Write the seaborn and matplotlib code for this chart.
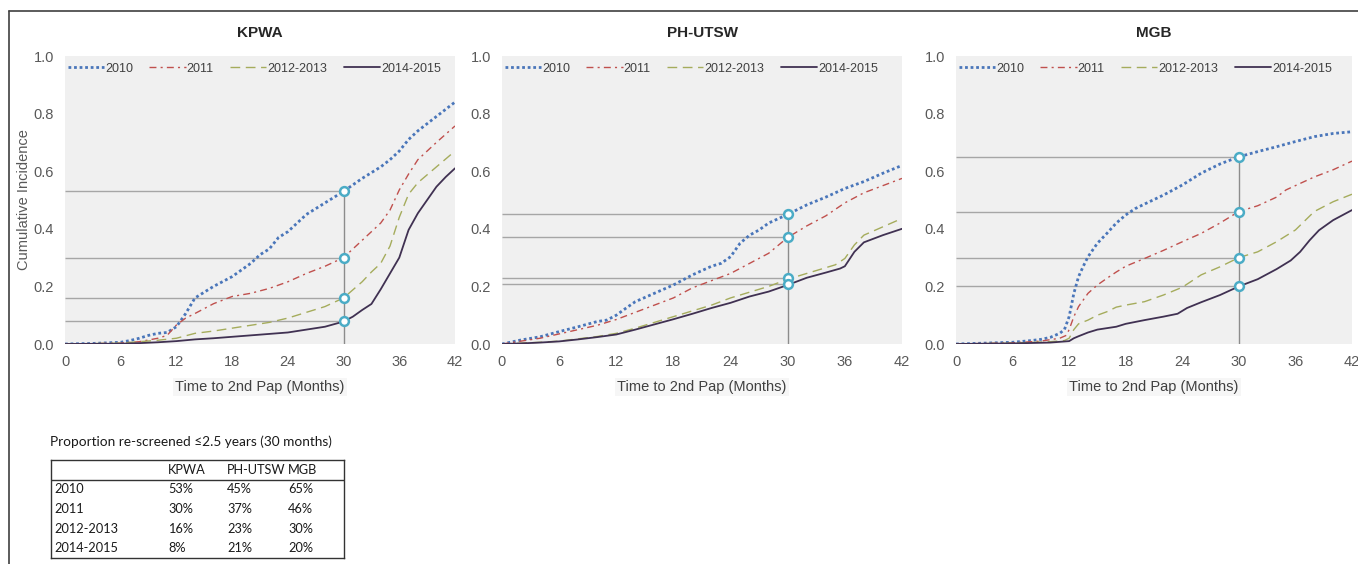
import numpy as np
import pandas as pd
import seaborn as sns
import matplotlib.pyplot as plt
from matplotlib.lines import Line2D

sns.set_style("white")
plt.rcParams['font.family'] = ['Liberation Sans', 'DejaVu Sans']

# data
sites = ["KPWA", "PH-UTSW", "MGB"]
cohorts = ["2010", "2011", "2012-2013", "2014-2015"]

# KPWA
kpwa_2010_t = [0, 3, 6, 7, 8, 9, 10, 11, 12, 13, 14, 15, 16, 18, 20, 21, 22, 23, 24, 25, 26, 28, 30, 32, 34, 35, 36, 37, 38, 40, 42]
kpwa_2010_v = [0, 0.002, 0.006, 0.012, 0.02, 0.03, 0.037, 0.04, 0.06, 0.106, 0.16, 0.18, 0.2, 0.234, 0.28, 0.31, 0.33, 0.37, 0.39, 0.42, 0.45, 0.49, 0.53, 0.575, 0.615, 0.64, 0.67, 0.71, 0.74, 0.79, 0.84]
kpwa_2011_t = [0, 6, 8, 10, 11, 12, 13, 14, 16, 18, 20, 22, 24, 26, 28, 30, 32, 33, 34, 35, 36, 37, 38, 40, 42]
kpwa_2011_v = [0, 0.003, 0.008, 0.02, 0.03, 0.066, 0.09, 0.106, 0.14, 0.165, 0.176, 0.193, 0.216, 0.245, 0.27, 0.30, 0.36, 0.39, 0.42, 0.465, 0.535, 0.59, 0.64, 0.70, 0.757]
kpwa_2012_t = [0, 6, 8, 10, 12, 14, 16, 18, 20, 22, 24, 26, 28, 30, 32, 33, 34, 35, 36, 37, 38, 40, 42]
kpwa_2012_v = [0, 0.003, 0.008, 0.013, 0.02, 0.037, 0.045, 0.055, 0.065, 0.075, 0.09, 0.11, 0.13, 0.16, 0.216, 0.25, 0.28, 0.34, 0.44, 0.52, 0.56, 0.615, 0.67]
kpwa_2014_t = [0, 6, 8, 10, 12, 14, 16, 18, 20, 22, 24, 26, 28, 30, 31, 32, 33, 34, 35, 36, 37, 38, 39, 40, 41, 42]
kpwa_2014_v = [0, 0.001, 0.003, 0.006, 0.01, 0.016, 0.02, 0.025, 0.03, 0.035, 0.04, 0.05, 0.06, 0.078, 0.095, 0.118, 0.139, 0.19, 0.245, 0.30, 0.396, 0.454, 0.50, 0.546, 0.58, 0.61]

# PH-UTSW
ph_2010_t = [0, 2, 4, 6, 8, 10, 11, 12, 13, 14, 16, 18, 20, 22, 23, 24, 25, 26, 27, 28, 30, 32, 34, 36, 38, 40, 42]
ph_2010_v = [0, 0.014, 0.025, 0.043, 0.06, 0.078, 0.083, 0.10, 0.124, 0.147, 0.176, 0.205, 0.24, 0.27, 0.28, 0.303, 0.35, 0.378, 0.396, 0.42, 0.45, 0.483, 0.51, 0.54, 0.564, 0.593, 0.62]
ph_2011_t = [0, 2, 4, 6, 8, 10, 12, 14, 16, 18, 20, 22, 24, 26, 28, 30, 32, 34, 36, 38, 40, 42]
ph_2011_v = [0, 0.01, 0.02, 0.035, 0.05, 0.065, 0.085, 0.11, 0.135, 0.16, 0.195, 0.22, 0.245, 0.28, 0.315, 0.37, 0.41, 0.445, 0.49, 0.525, 0.55, 0.575]
ph_2012_t = [0, 2, 4, 6, 8, 10, 12, 14, 16, 18, 20, 22, 24, 26, 28, 30, 32, 34, 35, 36, 37, 38, 40, 42]
ph_2012_v = [0, 0.003, 0.006, 0.01, 0.018, 0.026, 0.037, 0.055, 0.075, 0.095, 0.115, 0.135, 0.16, 0.18, 0.2, 0.225, 0.245, 0.265, 0.275, 0.297, 0.344, 0.378, 0.407, 0.436]
ph_2014_t = [0, 2, 4, 6, 8, 10, 12, 14, 16, 18, 20, 22, 24, 26, 28, 30, 32, 34, 35.5, 36, 37, 38, 40, 42]
ph_2014_v = [0, 0.002, 0.005, 0.009, 0.016, 0.024, 0.033, 0.05, 0.068, 0.086, 0.105, 0.125, 0.143, 0.165, 0.182, 0.205, 0.23, 0.248, 0.262, 0.27, 0.32, 0.353, 0.378, 0.40]

# MGB
mgb_2010_t = [0, 3, 6, 8, 9, 10, 11, 11.5, 12, 12.5, 13, 13.5, 14, 15, 16, 17, 18, 19, 20, 22, 24, 26, 28, 30, 32, 34, 36, 38, 40, 42]
mgb_2010_v = [0, 0.003, 0.006, 0.012, 0.016, 0.023, 0.037, 0.05, 0.095, 0.176, 0.234, 0.27, 0.303, 0.35, 0.384, 0.42, 0.448, 0.47, 0.486, 0.517, 0.552, 0.593, 0.625, 0.65, 0.668, 0.685, 0.703, 0.72, 0.731, 0.737]
mgb_2011_t = [0, 6, 9, 11, 11.7, 12, 12.5, 13, 14, 15, 16, 17, 18, 20, 22, 24, 26, 28, 30, 32, 34, 35, 36, 38, 40, 42]
mgb_2011_v = [0, 0.004, 0.01, 0.02, 0.03, 0.05, 0.095, 0.13, 0.176, 0.205, 0.228, 0.25, 0.27, 0.297, 0.325, 0.355, 0.384, 0.42, 0.46, 0.48, 0.51, 0.535, 0.55, 0.58, 0.605, 0.635]
mgb_2012_t = [0, 6, 10, 11.5, 12, 12.5, 13, 14, 15, 16, 17, 18, 20, 22, 24, 26, 28, 30, 32, 34, 36, 38, 40, 42]
mgb_2012_v = [0, 0.003, 0.008, 0.012, 0.02, 0.05, 0.07, 0.083, 0.1, 0.112, 0.128, 0.135, 0.147, 0.17, 0.197, 0.24, 0.268, 0.30, 0.32, 0.355, 0.396, 0.46, 0.494, 0.52]
mgb_2014_t = [0, 6, 10, 12, 12.5, 13, 14, 15, 16, 17, 18, 20, 22, 23.5, 24.5, 26, 28, 30, 32, 34, 35.5, 36.5, 37.5, 38.5, 40, 42]
mgb_2014_v = [0, 0.002, 0.005, 0.01, 0.02, 0.027, 0.04, 0.05, 0.055, 0.06, 0.07, 0.083, 0.095, 0.105, 0.125, 0.145, 0.17, 0.20, 0.225, 0.26, 0.29, 0.32, 0.36, 0.395, 0.43, 0.465]

# proportion re-screened at 30 months (%)
pct_kpwa = [53, 30, 16, 8]
pct_ph = [45, 37, 23, 21]
pct_mgb = [65, 46, 30, 20]

curves = {
    "KPWA": [(kpwa_2010_t, kpwa_2010_v), (kpwa_2011_t, kpwa_2011_v), (kpwa_2012_t, kpwa_2012_v), (kpwa_2014_t, kpwa_2014_v)],
    "PH-UTSW": [(ph_2010_t, ph_2010_v), (ph_2011_t, ph_2011_v), (ph_2012_t, ph_2012_v), (ph_2014_t, ph_2014_v)],
    "MGB": [(mgb_2010_t, mgb_2010_v), (mgb_2011_t, mgb_2011_v), (mgb_2012_t, mgb_2012_v), (mgb_2014_t, mgb_2014_v)],
}
pcts = {"KPWA": pct_kpwa, "PH-UTSW": pct_ph, "MGB": pct_mgb}

colors = ["#4A76BA", "#C0504D", "#A5AC5C", "#403152"]
styles = [(0, (1, 1)), (0, (5, 3, 1.5, 3)), (0, (7, 4)), "-"]
widths = [2.0, 1.0, 1.0, 1.3]

W, H = 1358, 564
fig = plt.figure(figsize=(W / 100, H / 100), dpi=100)
panels = [(65, 390), (502, 400), (956, 396)]
top, bottom = 56, 344

for i, site in enumerate(sites):
    left, width = panels[i]
    ax = fig.add_axes([left / W, 1 - bottom / H, width / W, (bottom - top) / H])
    ax.set_facecolor("#F0F0F0")
    for s in ax.spines.values():
        s.set_visible(False)

    vals = np.array(pcts[site]) / 100
    ax.hlines(vals, 0, 30, color="#A6A6A6", lw=1, zorder=1)
    ax.vlines(30, 0, vals.max(), color="#8C8C8C", lw=1, zorder=1)

    for j, (t, v) in enumerate(curves[site]):
        df = pd.DataFrame({"month": t, "ci": v})
        sns.lineplot(data=df, x="month", y="ci", ax=ax, color=colors[j],
                     linestyle=styles[j], lw=widths[j], label=cohorts[j], zorder=3)

    sns.scatterplot(x=[30] * 4, y=vals, ax=ax, s=40, facecolor="white",
                    edgecolor="#4BACC6", linewidth=1.8, zorder=5, legend=False)

    ax.set_xlim(0, 42)
    ax.set_ylim(0, 1)
    ax.set_xticks(range(0, 43, 6))
    ax.set_yticks(np.arange(0, 1.01, 0.2))
    ax.yaxis.set_major_formatter(plt.FormatStrFormatter("%.1f"))
    ax.tick_params(length=0, pad=8, labelsize=10.5, labelcolor="#595959")
    ax.set_title(site, fontsize=11, fontweight="bold", pad=14)
    ax.set_xlabel("Time to 2nd Pap (Months)", fontsize=10.5, color="#404040", labelpad=8,
                  bbox=dict(facecolor="#F6F6F6", edgecolor="none", pad=1.5))
    if i == 0:
        ax.set_ylabel("Cumulative Incidence", fontsize=10.5, color="#595959", labelpad=2)
    else:
        ax.set_ylabel("")
    leg = ax.legend(ncol=4, loc="upper left", bbox_to_anchor=(0, 0.985), frameon=False,
                    fontsize=9, handlelength=2.9, handletextpad=0.1, columnspacing=1.3,
                    borderaxespad=0, borderpad=0.2)
    for txt in leg.get_texts():
        txt.set_color("#404040")

# table of proportions re-screened at 30 months
tfont = ["Lato", "DejaVu Sans"]
fig.text(50 / W, 1 - 442 / H, "Proportion re-screened \u22642.5 years (30 months)",
         fontsize=9.8, family=tfont, va="center", color="#1A1A1A")
tax = fig.add_axes([51 / W, 1 - 558 / H, 293 / W, 98 / H])
tax.set_xlim(0, 293)
tax.set_ylim(5, 0)
tax.set_xticks([])
tax.set_yticks([])
for s in tax.spines.values():
    s.set_visible(True)
    s.set_color("#333333")
    s.set_linewidth(1)
tax.axhline(1, color="#333333", lw=1)
col_x = [3, 117, 176, 237]
for k, site in enumerate(sites):
    tax.text(col_x[k + 1], 0.5, site, fontsize=9.2, family=tfont, va="center", color="#1A1A1A")
for r, coh in enumerate(cohorts):
    tax.text(col_x[0], r + 1.5, coh, fontsize=9.2, family=tfont, va="center", color="#1A1A1A")
    for k, site in enumerate(sites):
        tax.text(col_x[k + 1], r + 1.5, f"{pcts[site][r]}%", fontsize=9.2, family=tfont,
                 va="center", color="#1A1A1A")

# outer frame lines (cropped slide border)
fig.add_artist(Line2D([9 / W, 9 / W], [0, 1 - 11 / H], transform=fig.transFigure, color="#404040", lw=1.2))
fig.add_artist(Line2D([9 / W, 1], [1 - 11 / H, 1 - 11 / H], transform=fig.transFigure, color="#404040", lw=1.2))

fig.savefig("out.png", dpi=100)
